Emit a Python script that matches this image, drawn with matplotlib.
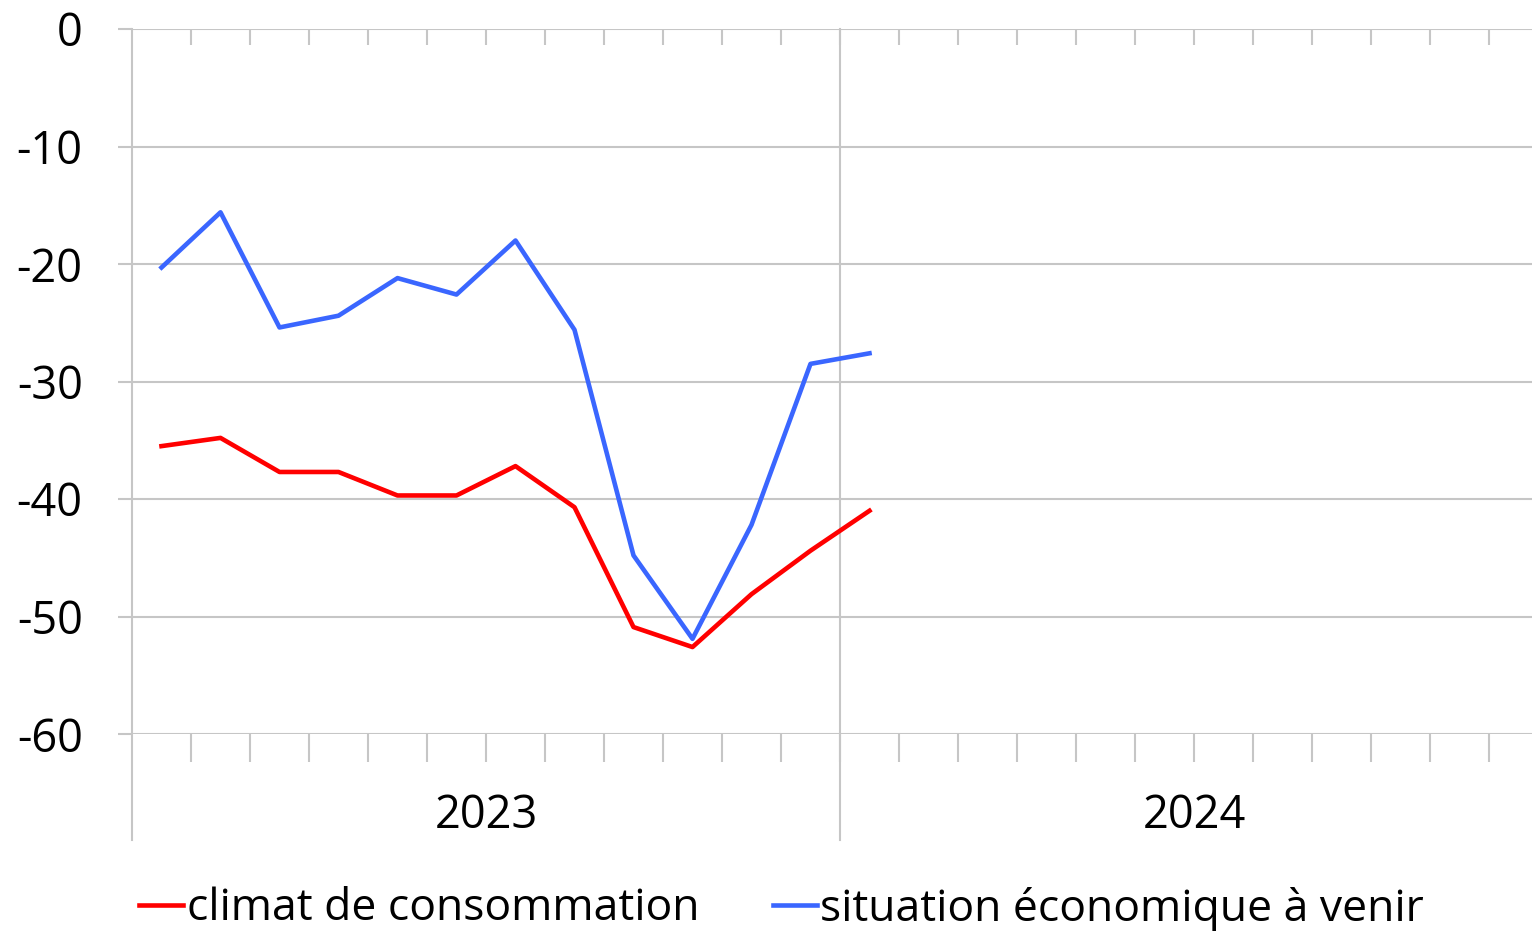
import matplotlib
matplotlib.use("Agg")
import matplotlib.pyplot as plt
import numpy as np

plt.rcParams['font.family'] = ['Open Sans', 'DejaVu Sans']

# monthly indicators, Jan 2023 .. Jan 2024
climat = [-35.5, -34.8, -37.7, -37.7, -39.7, -39.7, -37.2,
          -40.7, -50.9, -52.6, -48.1, -44.4, -41.0]
situation = [-20.3, -15.6, -25.4, -24.4, -21.2, -22.6, -18.0,
             -25.6, -44.8, -51.9, -42.2, -28.5, -27.6]
years = ['2023', '2024']
n_months = 24
yticks = [0, -10, -20, -30, -40, -50, -60]

grid_c = '#c6c6c6'
fsize = 32.5
W, H = 1532, 931
fig = plt.figure(figsize=(W / 100, H / 100), dpi=100)
ax = fig.add_axes([132 / W, 1 - 734 / H, 1416 / W, 705 / H])

x = np.arange(len(climat)) + 0.5
ax.plot(x, climat, color='#ff0000', lw=3.3, solid_joinstyle='round',
        label='climat de consommation', zorder=3)
ax.plot(x, situation, color='#3a66ff', lw=3.3, solid_joinstyle='round',
        label='situation économique à venir', zorder=3)

ax.set_xlim(0, n_months)
ax.set_ylim(-60, 0)

# y axis
ax.set_yticks(yticks)
ax.set_yticklabels([str(v) for v in yticks])
ax.tick_params(axis='y', length=10, width=1.5, color=grid_c, pad=25.5,
               labelsize=fsize)
ax.grid(axis='y', color=grid_c, lw=1.5, zorder=0)
for s in ['top', 'right', 'bottom', 'left']:
    ax.spines[s].set_visible(False)

# x axis: month boundary ticks below, small ones above
bounds = np.arange(1, n_months)
ax.set_xticks(bounds)
ax.set_xticklabels([])
ax.tick_params(axis='x', length=20, width=1.5, color=grid_c, direction='out')
top = ax.secondary_xaxis('top')
top.set_xticks(bounds)
top.set_xticklabels([])
top.tick_params(length=11.5, width=1.5, color=grid_c, direction='in')
top.spines['top'].set_visible(False)

# year separators
for xb in range(0, n_months, 12):
    ax.axvline(xb, ymin=-0.15, ymax=1, color=grid_c, lw=1.5, clip_on=False,
               zorder=1)

for i, yr in enumerate(years):
    ax.text(12 * i + 6, -0.117, yr, transform=ax.get_xaxis_transform(),
            ha='center', va='center', fontsize=fsize)

fig.legend(loc='center left', bbox_to_anchor=(139 / W, 1 - 909 / H),
           ncol=2, frameon=False, fontsize=32, handlelength=1.0,
           handletextpad=0.07, columnspacing=1.66, borderpad=0,
           borderaxespad=0)

fig.savefig('out.png', dpi=100, facecolor='white')
